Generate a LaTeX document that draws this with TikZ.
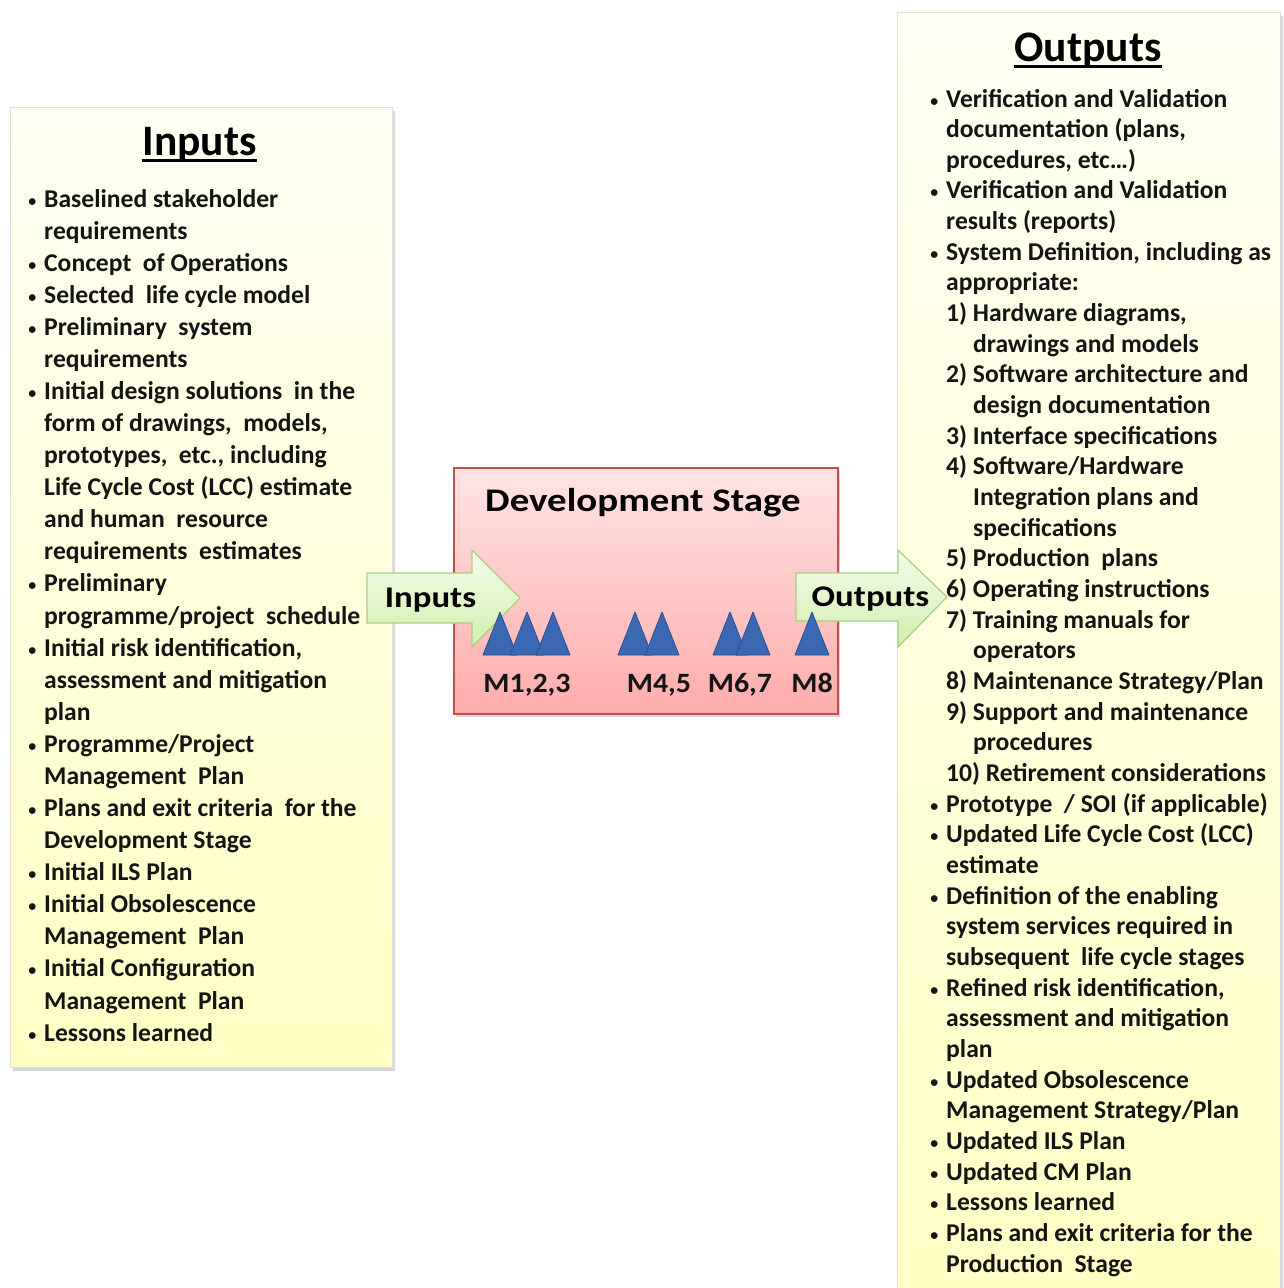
\documentclass[tikz,border=0pt]{standalone}
\usepackage{graphicx}
\usepackage{fontspec}
\setmainfont{Carlito}
\usetikzlibrary{shadows}
\definecolor{inTop}{HTML}{FFFFF4}
\definecolor{inBot}{HTML}{FFFFC4}
\definecolor{boxEdge}{HTML}{E2E2DA}
\definecolor{devTop}{HTML}{FFE4E4}
\definecolor{devBot}{HTML}{FFACAC}
\definecolor{devEdge}{HTML}{C0504D}
\definecolor{arrTop}{HTML}{F4FCEA}
\definecolor{arrBot}{HTML}{D2EFAE}
\definecolor{arrEdge}{HTML}{A9CF7E}
\definecolor{triFill}{HTML}{3A68B2}
\definecolor{triEdge}{HTML}{2C5190}
\definecolor{ink}{HTML}{141414}
\newcommand\itb{\llap{\raisebox{1pt}{\scalebox{0.62}{\textbullet}}\hspace{8pt}}}
\newcommand\contind{\hspace*{27pt}}
\newcommand\wide[2]{\scalebox{#1}[1]{#2}}
\tikzset{
  listbox/.style={draw=boxEdge, line width=1pt, top color=inTop, bottom color=inBot,
    inner sep=0pt, anchor=north west,
    drop shadow={shadow xshift=2pt, shadow yshift=-3pt, opacity=0.3}},
  devbox/.style={draw=devEdge, line width=1.5pt, top color=devTop, bottom color=devBot,
    inner sep=0pt, anchor=north west,
    drop shadow={shadow xshift=2pt, shadow yshift=-3pt, opacity=0.3}},
  blockarrow/.style={draw=arrEdge, line width=1.2pt, top color=arrTop, bottom color=arrBot, line join=round},
  milestone/.style={draw=triEdge, line width=0.8pt, fill=triFill, line join=round},
  itemtxt/.style={inner sep=0pt, anchor=base west, text=ink, font=\bfseries\fontsize{25.6}{30}\selectfont},
  headtxt/.style={inner sep=0pt, anchor=base, text=black, font=\bfseries\fontsize{43.5}{50}\selectfont},
  titletxt/.style={inner sep=0pt, anchor=base, text=black, font=\bfseries\fontsize{33}{38}\selectfont},
  arrtxt/.style={inner sep=0pt, anchor=base, text=black, font=\bfseries\fontsize{30}{34}\selectfont},
  mtxt/.style={inner sep=0pt, anchor=base, text=ink, font=\bfseries\fontsize{28}{34}\selectfont},
  uline/.style={line width=2.8pt, black}
}
\begin{document}
\begin{tikzpicture}[x=1pt,y=-1pt]
\useasboundingbox (0,0) rectangle (1283,1288);
\clip (0,0) rectangle (1283,1288);
\fill[white] (0,0) rectangle (1283,1288);

% boxes
\node[listbox, minimum width=382pt, minimum height=960pt] (inbox) at (10,107) {};
\node[listbox, minimum width=383pt, minimum height=1300pt] (outbox) at (897,12) {};
\node[devbox, minimum width=384pt, minimum height=246pt] (devbox) at (453,467) {};

% headers
\node[headtxt] (inh) at (199.5,155) {Inputs};
\draw[uline] ([yshift=-5.5pt]inh.base west) -- ([yshift=-5.5pt]inh.base east);
\node[headtxt] (outh) at (1088,61) {Outputs};
\draw[uline] ([yshift=-5.5pt]outh.base west) -- ([yshift=-5.5pt]outh.base east);
\node[titletxt] (devt) at (643,511) {\wide{1.18}{Development Stage}};

% block arrows
\draw[blockarrow] (367,573) -- (472,573) -- (472,550) -- (520,598) -- (472,647) -- (472,623) -- (367,623) -- cycle;
\draw[blockarrow] (796,573) -- (898,573) -- (898,550) -- (947,597) -- (898,647) -- (898,621) -- (796,621) -- cycle;
\node[arrtxt] (inarr) at (430.5,607) {\wide{1.16}{Inputs}};

% milestones
\foreach \mx in {500,527,553,635,662,730,753,812}
  \draw[milestone] (\mx-17,655) -- (\mx,612) -- (\mx+17,655) -- cycle;
\node[arrtxt] (outarr) at (870.5,606) {\wide{1.16}{Outputs}};

\node[mtxt] (m123) at (527,692) {\wide{1.07}{M1,2,3}};
\node[mtxt] (m45) at (659,692) {\wide{1.07}{M4,5}};
\node[mtxt] (m67) at (740,692) {\wide{1.07}{M6,7}};
\node[mtxt] (m8) at (812,692) {\wide{1.07}{M8}};

% inputs list
\foreach \t [count=\i] in {
  {\itb Baselined stakeholder},
  {requirements},
  {\itb Concept\ \ of Operations},
  {\itb Selected\ \ life cycle model},
  {\itb Preliminary\ \ system},
  {requirements},
  {\itb Initial design solutions\ \ in the},
  {form of drawings,\ \ models,},
  {prototypes,\ \ etc., including},
  {Life Cycle Cost (LCC) estimate},
  {and human\ \ resource},
  {requirements\ \ estimates},
  {\itb Preliminary},
  {programme/project\ \ schedule},
  {\itb Initial risk identification,},
  {assessment and mitigation},
  {plan},
  {\itb Programme/Project},
  {Management\ \ Plan},
  {\itb Plans and exit criteria\ \ for the},
  {Development Stage},
  {\itb Initial ILS Plan},
  {\itb Initial Obsolescence},
  {Management\ \ Plan},
  {\itb Initial Configuration},
  {Management\ \ Plan},
  {\itb Lessons learned}}
  \node[itemtxt] (in\i) at (44,{207+(\i-1)*32.08}) {\t};

% outputs list
\foreach \t [count=\i] in {
  {\itb Verification and Validation},
  {documentation (plans,},
  {procedures, etc…)},
  {\itb Verification and Validation},
  {results (reports)},
  {\itb System Definition, including as},
  {appropriate:},
  {1) Hardware diagrams,},
  {\contind drawings and models},
  {2) Software architecture and},
  {\contind design documentation},
  {3) Interface specifications},
  {4) Software/Hardware},
  {\contind Integration plans and},
  {\contind specifications},
  {5) Production\ \ plans},
  {6) Operating instructions},
  {7) Training manuals for},
  {\contind operators},
  {8) Maintenance Strategy/Plan},
  {9) Support and maintenance},
  {\contind procedures},
  {10) Retirement considerations},
  {\itb Prototype\ \ / SOI (if applicable)},
  {\itb Updated Life Cycle Cost (LCC)},
  {estimate},
  {\itb Definition of the enabling},
  {system services required in},
  {subsequent\ \ life cycle stages},
  {\itb Refined risk identification,},
  {assessment and mitigation},
  {plan},
  {\itb Updated Obsolescence},
  {Management Strategy/Plan},
  {\itb Updated ILS Plan},
  {\itb Updated CM Plan},
  {\itb Lessons learned},
  {\itb Plans and exit criteria for the},
  {Production\ \ Stage}}
  \node[itemtxt] (out\i) at (946,{107+(\i-1)*30.66}) {\t};
\end{tikzpicture}
\end{document}
